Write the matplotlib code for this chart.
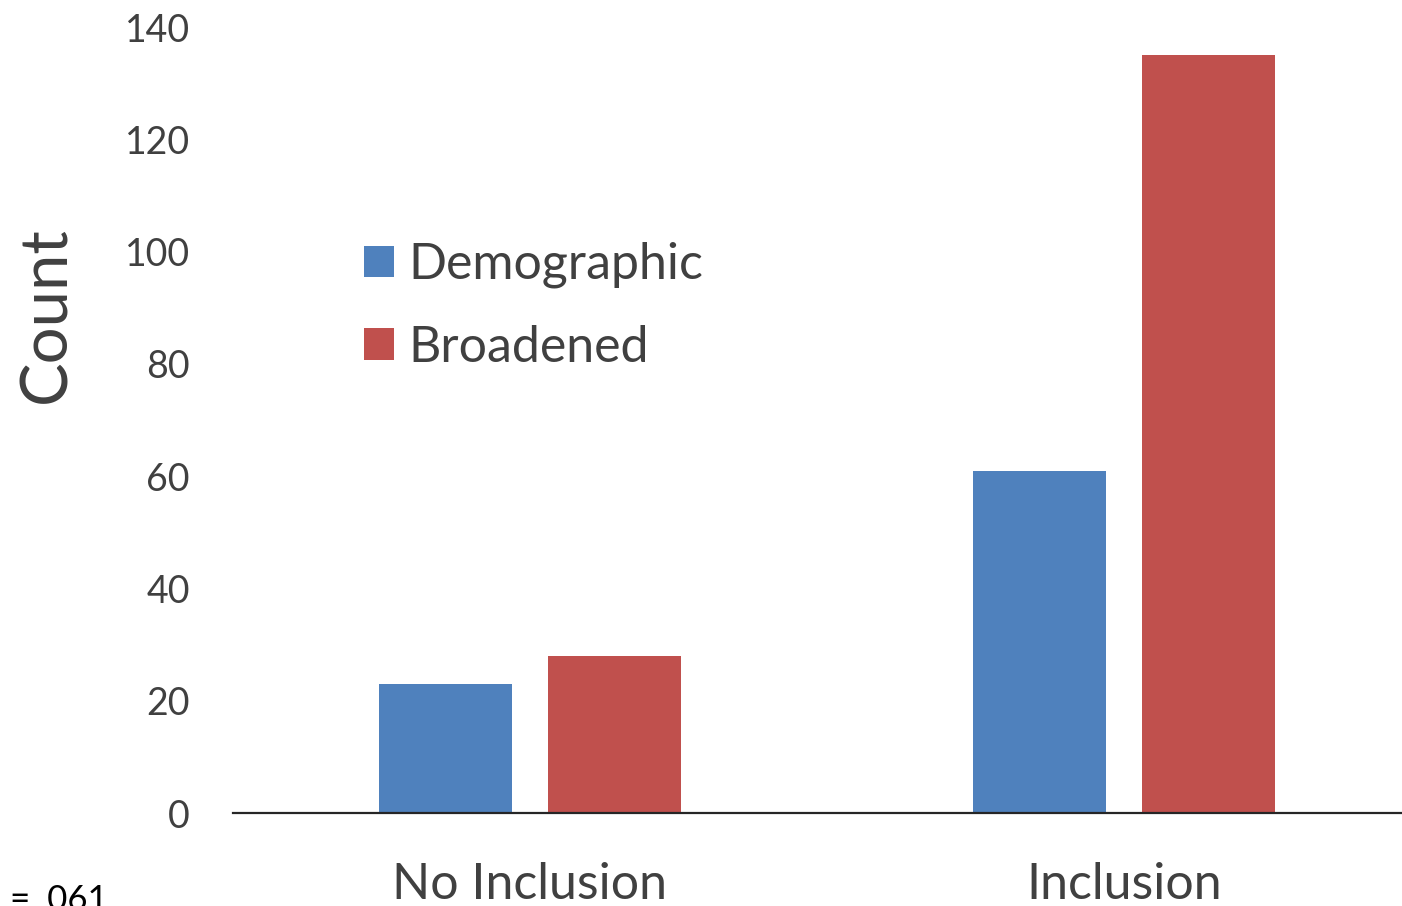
import matplotlib.pyplot as plt
import numpy as np

categories = ["No Inclusion", "Inclusion"]
demographic = [23, 61]
broadened = [28, 135]
series_names = ["Demographic", "Broadened"]
colors = ["#4F81BD", "#C0504D"]

plt.rcParams["font.family"] = ["Lato", "DejaVu Sans"]

W, H = 1402, 906
fig = plt.figure(figsize=(W / 100, H / 100), dpi=100)
# axes extend past the right edge of the canvas
ax = fig.add_axes([233 / W, 93 / H, 1188 / W, 786 / H])

x = np.arange(len(categories))
bw = 0.224
ax.bar(x - 0.142, demographic, bw, color=colors[0], label=series_names[0])
ax.bar(x + 0.142, broadened, bw, color=colors[1], label=series_names[1])

ax.set_xlim(-0.5, 1.5)
ax.set_ylim(0, 140)
ax.set_yticks(range(0, 141, 20))
ax.set_xticks(x)
ax.set_xticklabels(categories)

for s in ["top", "right", "left"]:
    ax.spines[s].set_visible(False)
ax.spines["bottom"].set_color("#262626")
ax.spines["bottom"].set_linewidth(1.6)

ax.tick_params(axis="y", length=0, pad=31, labelsize=27, labelcolor="#404040")
ax.tick_params(axis="x", length=0, pad=35, labelsize=36, labelcolor="#404040")

ax.set_ylabel("Count", fontsize=47, color="#404040")
ax.yaxis.set_label_coords(-157 / 1188, 0.634)

ax.legend(loc="upper left", bbox_to_anchor=(364 / W, 1 - 242 / H),
          bbox_transform=fig.transFigure, frameon=False, fontsize=36,
          handlelength=0.6, handleheight=0.6, handletextpad=0.28,
          labelspacing=0.72, borderpad=0, borderaxespad=0,
          labelcolor="#404040")

fig.text(10 / W, 1 - 884 / H, "= .061", fontsize=25, color="black", va="top")

fig.savefig("out.png", dpi=100)
